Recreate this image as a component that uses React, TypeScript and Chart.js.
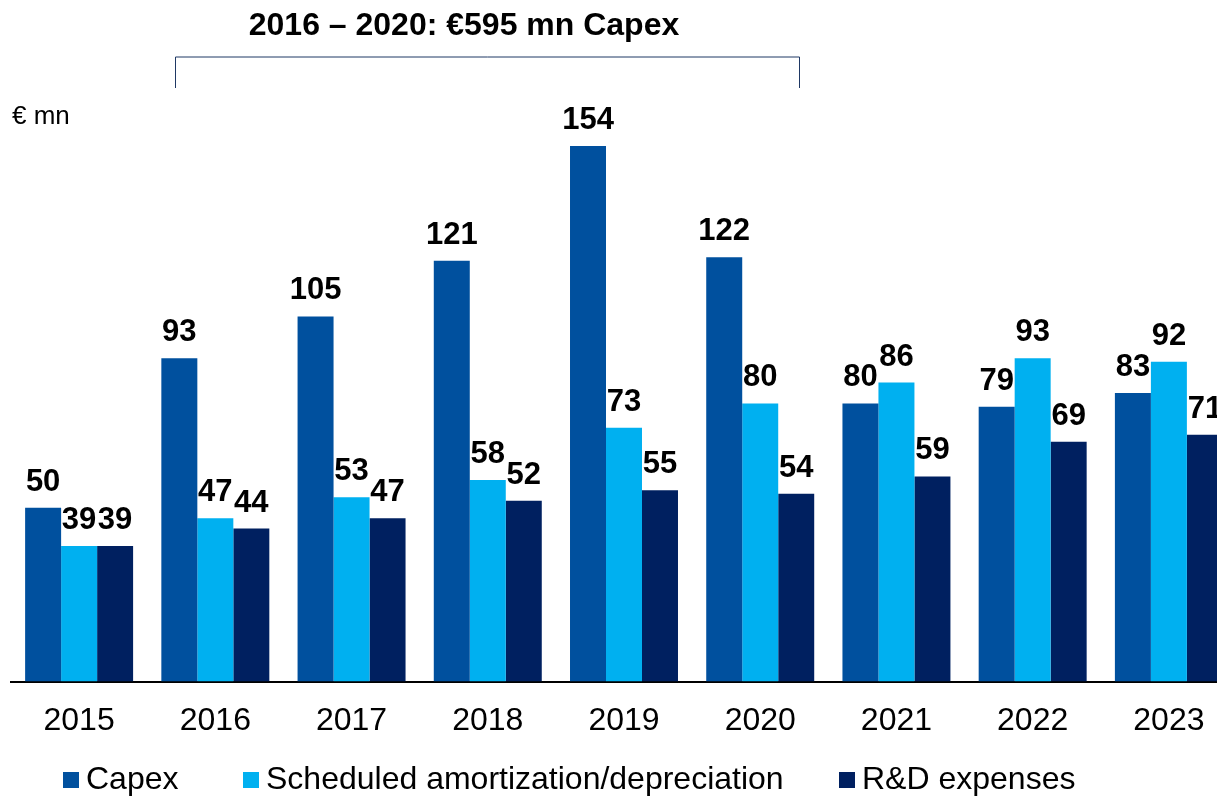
import React, { useEffect, useRef } from "react";
import { Chart, registerables } from "chart.js";

Chart.register(...registerables);

const categories = ["2015", "2016", "2017", "2018", "2019", "2020", "2021", "2022", "2023"];
const capex = [50, 93, 105, 121, 154, 122, 80, 79, 83];
const scheduled = [39, 47, 53, 58, 73, 80, 86, 93, 92];
const rnd = [39, 44, 47, 52, 55, 54, 59, 69, 71];
const seriesNames = ["Capex", "Scheduled amortization/depreciation", "R&D expenses"];
const seriesColors = ["#00509E", "#00B0F0", "#002060"];
const titleText = "2016 – 2020: €595 mn Capex";
const unitText = "€ mn";

const FONT = "'Liberation Sans', Arial, sans-serif";

const overlayPlugin = {
  id: "overlay",
  afterDatasetsDraw(chart: any) {
    const ctx = chart.ctx;
    ctx.save();
    // data labels
    ctx.fillStyle = "#000";
    ctx.font = `bold 31px ${FONT}`;
    ctx.textAlign = "center";
    ctx.textBaseline = "alphabetic";
    chart.data.datasets.forEach((ds: any, di: number) => {
      const meta = chart.getDatasetMeta(di);
      meta.data.forEach((bar: any, i: number) => {
        ctx.fillText(String(ds.data[i]), bar.x, bar.y - 17);
      });
    });

    // title
    ctx.font = `bold 32px ${FONT}`;
    ctx.textAlign = "center";
    ctx.fillText(titleText, 464, 35);

    // bracket spanning 2016-2020
    const xs = chart.scales.x;
    const left = Math.round(xs.getPixelForValue(1) - 40) + 0.5;
    const right = Math.round(xs.getPixelForValue(5) + 39) + 0.5;
    ctx.strokeStyle = "#1F3864";
    ctx.lineWidth = 1;
    ctx.beginPath();
    ctx.moveTo(left, 88);
    ctx.lineTo(left, 57);
    ctx.lineTo(right, 57);
    ctx.lineTo(right, 88);
    ctx.stroke();

    // unit
    ctx.font = `26px ${FONT}`;
    ctx.textAlign = "left";
    ctx.fillText(unitText, 12, 124);

    // legend
    const legendX = [63, 243, 839];
    ctx.font = `32px ${FONT}`;
    seriesNames.forEach((name, i) => {
      ctx.fillStyle = seriesColors[i];
      ctx.fillRect(legendX[i], 772, 16, 16);
      ctx.fillStyle = "#000";
      ctx.fillText(name, legendX[i] + 23, 789);
    });
    ctx.restore();
  },
};

export default function App() {
  const ref = useRef<HTMLCanvasElement>(null);
  useEffect(() => {
    if (!ref.current) return;
    const chart = new Chart(ref.current, {
      type: "bar",
      data: {
        labels: categories,
        datasets: [
          { label: seriesNames[0], data: capex, backgroundColor: seriesColors[0] },
          { label: seriesNames[1], data: scheduled, backgroundColor: seriesColors[1] },
          { label: seriesNames[2], data: rnd, backgroundColor: seriesColors[2] },
        ],
      },
      options: {
        animation: false,
        responsive: true,
        maintainAspectRatio: false,
        layout: { padding: { left: 11, right: 3, top: 0, bottom: 38 } },
        datasets: { bar: { categoryPercentage: 0.7927, barPercentage: 1 } },
        plugins: { legend: { display: false }, tooltip: { enabled: false } },
        scales: {
          x: {
            grid: { display: false, drawTicks: false },
            border: { display: true, color: "#000", width: 2 },
            ticks: { color: "#000", font: { family: FONT, size: 32 }, padding: 20 },
          },
          y: { display: false, min: 0, max: 196 },
        },
      },
      plugins: [overlayPlugin],
    });
    return () => chart.destroy();
  }, []);
  return (
    <div style={{ position: "fixed", left: 0, top: 0, width: 1217, height: 798, overflow: "hidden", background: "#fff" }}>
      <div style={{ position: "absolute", left: 0, top: 0, width: 1240, height: 798 }}>
        <canvas ref={ref} />
      </div>
    </div>
  );
}
